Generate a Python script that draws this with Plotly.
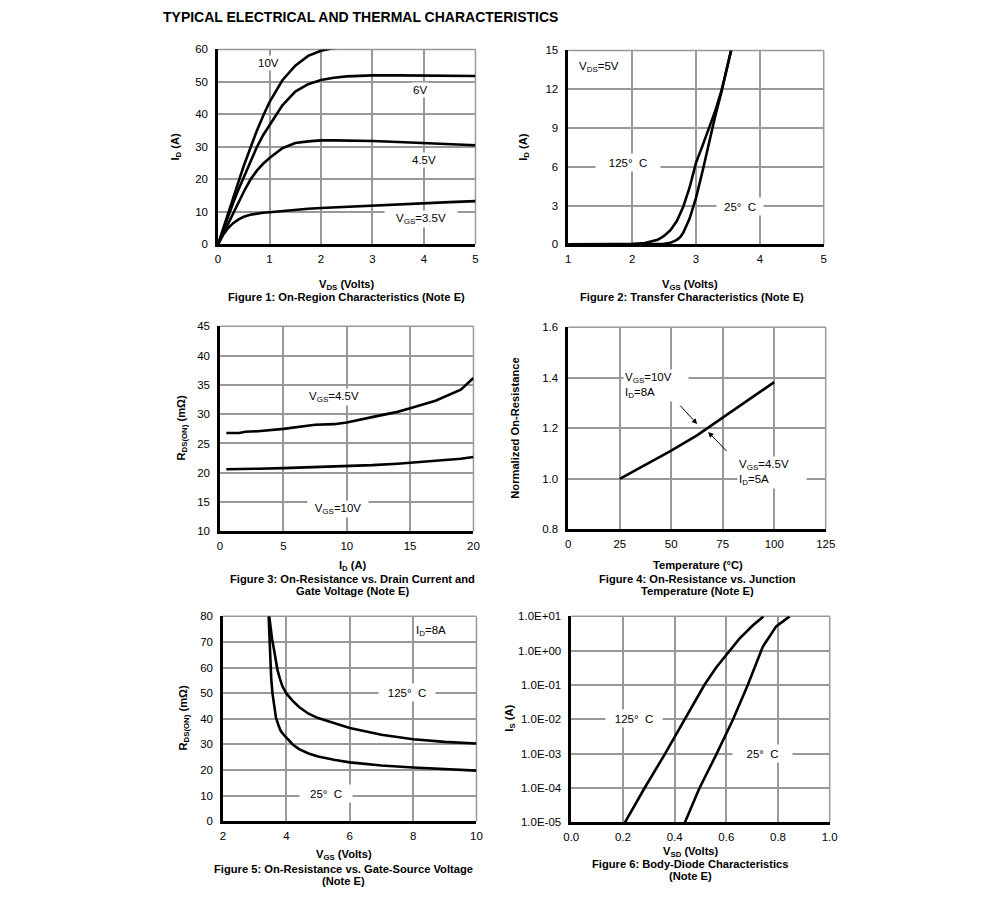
import plotly.graph_objects as go

W, H = 991, 916
FONT = "Liberation Sans, Arial, sans-serif"
GRID = "#999999"

# ---------------- data ----------------
# Fig 1: On-region characteristics
f1_vds = [0, 0.1, 0.2, 0.3, 0.4, 0.5, 0.625, 0.75, 0.875, 1.0, 1.25, 1.5, 1.75, 2.0, 2.25, 2.5, 3.0, 3.5, 4.0, 4.5, 5.0]
f1_10v = [0, 5.0, 10.0, 14.6, 19.4, 24.2, 29.8, 34.8, 39.5, 43.8, 50.5, 55.0, 58.0, 59.6, 60.4, 61.0, 62.0, 62.5, 63.0, 63.3, 63.5]
f1_6v = [0, 4.5, 9.0, 13.0, 17.0, 20.8, 25.6, 29.8, 33.6, 36.8, 42.8, 47.0, 49.3, 50.6, 51.3, 51.7, 52.0, 52.0, 51.9, 51.9, 51.8]
f1_45v = [0, 3.3, 6.6, 10.0, 13.2, 16.2, 19.8, 22.6, 24.8, 26.6, 29.6, 31.2, 31.7, 32.0, 32.0, 32.0, 31.8, 31.5, 31.1, 30.8, 30.5]
f1_35v = [0, 3.0, 5.1, 6.6, 7.7, 8.5, 9.1, 9.5, 9.75, 9.9, 10.3, 10.65, 10.95, 11.2, 11.4, 11.6, 12.0, 12.4, 12.7, 13.0, 13.3]

# Fig 2: Transfer characteristics
f2_vgs = [1.0, 1.5, 2.0, 2.2, 2.4, 2.5, 2.6, 2.7, 2.75, 2.8, 2.9, 3.0, 3.1, 3.2, 3.3, 3.4, 3.5, 3.55]
f2_125 = [0, 0, 0.02, 0.1, 0.35, 0.65, 1.1, 1.8, 2.3, 2.9, 4.4, 6.3, 7.6, 8.9, 10.3, 11.9, 13.9, 15.0]
f2_25 = [0, 0, 0, 0, 0.02, 0.05, 0.12, 0.35, 0.55, 0.9, 2.0, 3.6, 5.6, 7.8, 9.9, 11.8, 13.8, 15.0]

# Fig 3: On-resistance vs drain current
f3_id = [0.5, 1.5, 2, 3, 5, 7.5, 9, 10, 12, 14, 15, 17, 19, 20]
f3_45v = [26.8, 26.8, 27.0, 27.1, 27.5, 28.2, 28.3, 28.6, 29.5, 30.4, 31.0, 32.3, 34.2, 36.2]
f3_10v = [20.6, 20.6, 20.65, 20.7, 20.8, 20.95, 21.05, 21.1, 21.3, 21.55, 21.7, 22.0, 22.4, 22.7]

# Fig 4: Normalized on-resistance vs temperature
f4_t = [25, 37.5, 50, 62.5, 75, 87.5, 100]
f4_r = [1.0, 1.055, 1.112, 1.172, 1.242, 1.312, 1.383]

# Fig 5: On-resistance vs gate-source voltage
f5_vgs125 = [3.46, 3.5, 3.55, 3.61, 3.66, 3.72, 3.8, 3.875, 4.0, 4.2, 4.4, 4.7, 5.0, 5.5, 6.0, 7.0, 8.0, 9.0, 10.0]
f5_125 = [80, 75, 71, 67, 62.5, 59, 55.5, 52.7, 49.9, 47.0, 44.6, 42.0, 40.3, 38.2, 36.4, 33.8, 32.0, 31.0, 30.4]
f5_vgs25 = [3.44, 3.47, 3.49, 3.52, 3.56, 3.62, 3.67, 3.75, 3.82, 3.9, 4.0, 4.2, 4.4, 4.7, 5.0, 5.5, 6.0, 7.0, 8.0, 9.0, 10.0]
f5_25 = [80, 70, 63, 56, 50, 44.5, 40.5, 37.5, 35.3, 34.0, 32.8, 30.0, 28.2, 26.5, 25.3, 24.0, 23.0, 21.8, 21.0, 20.3, 19.8]

# Fig 6: Body-diode characteristics
f6_v125 = [0.208, 0.282, 0.36, 0.437, 0.515, 0.56, 0.60, 0.65, 0.702, 0.744]
f6_i125 = [1e-5, 9.5e-5, 9.1e-4, 9.5e-3, 0.1, 0.32, 0.78, 2.2, 5.4, 10]
f6_v25 = [0.44, 0.495, 0.56, 0.625, 0.683, 0.741, 0.793, 0.845]
f6_i25 = [1e-5, 9.5e-5, 9.1e-4, 9.5e-3, 0.1, 1.3, 5.1, 10]
f6_tickvals = [1e-5, 1e-4, 1e-3, 1e-2, 1e-1, 1, 10]
f6_ticktext = ["1.0E-05", "1.0E-04", "1.0E-03", "1.0E-02", "1.0E-01", "1.0E+00", "1.0E+01"]

# ---------------- layout helpers ----------------
# The photographed page is slightly scaled/offset; map target pixels to layout pixels.
SX, OX = 0.984, 6.5
SY, OY = 0.987, 5.6
FS = 1 / 0.985  # font compensation

def PX(x):
    return (x - OX) / SX

def PY(y):
    return (y - OY) / SY

def dom_x(a, b):
    return [PX(a) / W, PX(b) / W]

def dom_y(top, bottom):
    return [1 - PY(bottom) / H, 1 - PY(top) / H]

# target pixel boxes (left, right, top, bottom)
boxes = {
    1: (217, 475, 49, 244),
    2: (568, 824, 50, 244),
    3: (219, 473, 326, 531),
    4: (568, 826, 327, 529),
    5: (222, 476, 616, 821),
    6: (571, 830, 616, 822),
}

fig = go.Figure()
line = dict(color="black", width=2.6)

def add(n, x, y):
    xa = "x" if n == 1 else f"x{n}"
    ya = "y" if n == 1 else f"y{n}"
    fig.add_trace(go.Scatter(x=x, y=y, mode="lines", line=line, xaxis=xa, yaxis=ya,
                             showlegend=False, hoverinfo="skip"))

add(1, f1_vds, f1_10v)
add(1, f1_vds, f1_6v)
add(1, f1_vds, f1_45v)
add(1, f1_vds, f1_35v)
add(2, f2_vgs, f2_125)
add(2, f2_vgs, f2_25)
add(3, f3_id, f3_45v)
add(3, f3_id, f3_10v)
add(4, f4_t, f4_r)
add(5, f5_vgs125, f5_125)
add(5, f5_vgs25, f5_25)
add(6, f6_v125, f6_i125)
add(6, f6_v25, f6_i25)

axcfg = {
    1: (dict(range=[0, 5], dtick=1), dict(range=[0, 60], dtick=10)),
    2: (dict(range=[1, 5], dtick=1), dict(range=[0, 15], dtick=3)),
    3: (dict(range=[0, 20], dtick=5), dict(range=[10, 45], dtick=5)),
    4: (dict(range=[0, 125], dtick=25), dict(range=[0.8, 1.6], dtick=0.2, tickformat=".1f")),
    5: (dict(range=[2, 10], dtick=2), dict(range=[0, 80], dtick=10)),
    6: (dict(range=[0, 1], dtick=0.2, tickformat=".1f"),
        dict(type="log", range=[-5, 1], tickvals=f6_tickvals, ticktext=f6_ticktext)),
}

TICKF = dict(family=FONT, size=11.3 * FS, color="black")
common = dict(showgrid=True, gridcolor=GRID, gridwidth=1.5, showline=True, linecolor="black",
              linewidth=2.6, ticks="", zeroline=False, tickfont=TICKF, fixedrange=True)

lay = {}
for n, (l, r, t, b) in boxes.items():
    xs = "xaxis" if n == 1 else f"xaxis{n}"
    ys = "yaxis" if n == 1 else f"yaxis{n}"
    ya = "y" if n == 1 else f"y{n}"
    xa = "x" if n == 1 else f"x{n}"
    xc, yc = axcfg[n]
    lay[xs] = dict(domain=dom_x(l, r), anchor=ya, ticklabelstandoff=2, **common, **xc)
    lay[ys] = dict(domain=dom_y(t, b), anchor=xa, ticklabelstandoff=5, **common, **yc)
fig.update_layout(**lay)

# gray top/right frame
shapes = []
for n in boxes:
    xa = "x" if n == 1 else f"x{n}"
    ya = "y" if n == 1 else f"y{n}"
    shapes.append(dict(type="line", xref=f"{xa} domain", yref=f"{ya} domain", x0=0, x1=1, y0=1, y1=1,
                       line=dict(color=GRID, width=1.5), layer="below"))
    shapes.append(dict(type="line", xref=f"{xa} domain", yref=f"{ya} domain", x0=1, x1=1, y0=0, y1=1,
                       line=dict(color=GRID, width=1.5), layer="below"))

ann = []

def txt(n, x, y, s, width=None, height=None, bg="white", xanchor="center", align="center"):
    xa = "x" if n == 1 else f"x{n}"
    ya = "y" if n == 1 else f"y{n}"
    d = dict(xref=xa, yref=ya, x=x, y=y, text=s, showarrow=False, xanchor=xanchor, align=align,
             font=dict(family=FONT, size=11.3 * FS, color="black"), bgcolor=bg)
    if width:
        d["width"] = width
    if height:
        d["height"] = height
    ann.append(d)

def paper(px, py, s, size=11, angle=0, bold=True):
    ann.append(dict(xref="paper", yref="paper", x=PX(px) / W, y=1 - PY(py) / H,
                    text=(f"<b>{s}</b>" if bold else s),
                    showarrow=False, xanchor="center", yanchor="middle", textangle=angle,
                    font=dict(family=FONT, size=size * FS, color="black")))

# Fig 1 labels
txt(1, 0.98, 55.8, "10V")
txt(1, 3.92, 47.6, "6V")
txt(1, 4.0, 26.0, "4.5V")
txt(1, 3.95, 7.7, "V<sub>GS</sub>=3.5V", width=70)
# Fig 2 labels
txt(2, 1.14, 13.75, "V<sub>DS</sub>=5V", xanchor="left", bg="rgba(0,0,0,0)")
txt(2, 1.93, 6.3, "125°  C", width=62, height=15)
txt(2, 3.69, 2.9, "25°  C", width=44, height=15)
# Fig 3 labels
txt(3, 9.0, 32.9, "V<sub>GS</sub>=4.5V")
txt(3, 9.3, 13.9, "V<sub>GS</sub>=10V", width=58)
# Fig 4 labels
txt(4, 26.5, 1.37, "V<sub>GS</sub>=10V<br>I<sub>D</sub>=8A", xanchor="left", align="left", width=62)
txt(4, 81.8, 1.025, "V<sub>GS</sub>=4.5V<br>I<sub>D</sub>=5A", xanchor="left", align="left", width=66)
ann.append(dict(xref="x4", yref="y4", axref="x4", ayref="y4", x=62.6, y=1.217, ax=53.7, ay=1.296,
                showarrow=True, arrowhead=2, arrowsize=1.1, arrowwidth=1, arrowcolor="black", text=""))
ann.append(dict(xref="x4", yref="y4", axref="x4", ayref="y4", x=67.9, y=1.186, ax=77.6, ay=1.104,
                showarrow=True, arrowhead=2, arrowsize=1.1, arrowwidth=1, arrowcolor="black", text=""))
# Fig 5 labels
txt(5, 8.55, 74.1, "I<sub>D</sub>=8A", bg="rgba(0,0,0,0)")
txt(5, 7.82, 50.3, "125°  C", width=54, height=15)
txt(5, 5.25, 11.0, "25°  C", width=50, height=15)
# Fig 6 labels (log axis -> annotation y in log10 units)
txt(6, 0.243, -1.97, "125°  C", width=54, height=15)
txt(6, 0.74, -2.99, "25°  C", width=57, height=15)

# Title
ann.append(dict(xref="paper", yref="paper", x=PX(160) / W, y=1 - PY(17) / H, xanchor="left", yanchor="middle",
                text="<b>TYPICAL ELECTRICAL AND THERMAL CHARACTERISTICS</b>", showarrow=False,
                font=dict(family=FONT, size=13.8 * FS, color="black")))

# axis titles + captions
paper(175, 146, "I<sub>D</sub> (A)", angle=-90)
paper(346, 285, "V<sub>DS</sub> (Volts)")
paper(346, 297, "Figure 1: On-Region Characteristics (Note E)")

paper(524, 146, "I<sub>D</sub> (A)", angle=-90)
paper(690, 285, "V<sub>GS</sub> (Volts)")
paper(692, 297, "Figure 2: Transfer Characteristics (Note E)")

paper(181, 428, "R<sub>DS(ON)</sub> (mΩ)", angle=-90)
paper(352, 566, "I<sub>D</sub> (A)")
paper(352, 579, "Figure 3: On-Resistance vs. Drain Current and")
paper(352, 591, "Gate Voltage (Note E)")

paper(515, 428, "Normalized On-Resistance", angle=-90)
paper(698, 565, "Temperature (°C)")
paper(698, 579, "Figure 4: On-Resistance vs. Junction")
paper(698, 591, "Temperature (Note E)")

paper(183, 718, "R<sub>DS(ON)</sub> (mΩ)", angle=-90)
paper(343, 855, "V<sub>GS</sub> (Volts)")
paper(343, 869, "Figure 5: On-Resistance vs. Gate-Source Voltage")
paper(343, 881, "(Note E)")

paper(510, 718, "I<sub>S</sub> (A)", angle=-90)
paper(691, 852, "V<sub>SD</sub> (Volts)")
paper(691, 864, "Figure 6: Body-Diode Characteristics")
paper(691, 876, "(Note E)")

fig.update_layout(width=W, height=H, margin=dict(l=0, r=0, t=0, b=0), paper_bgcolor="white",
                  plot_bgcolor="white", shapes=shapes, annotations=ann, showlegend=False,
                  font=dict(family=FONT, color="black"))

fig.write_html("out.html", config={"displayModeBar": False},
               post_script="document.body.style.margin='0';document.documentElement.style.overflow='hidden';document.body.style.overflow='hidden';")
